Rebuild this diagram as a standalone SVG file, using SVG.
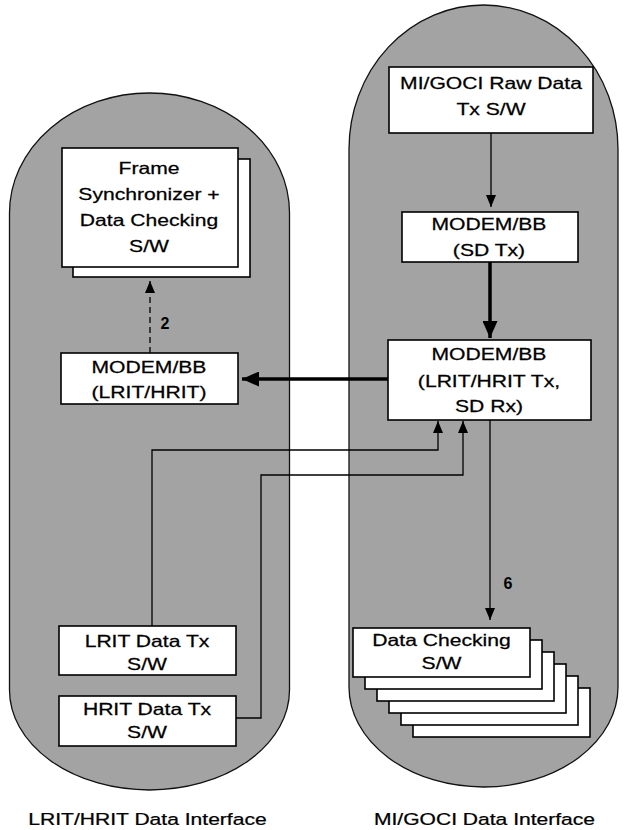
<svg xmlns="http://www.w3.org/2000/svg" width="625" height="830" viewBox="0 0 625 830">
<style>
.cap{fill:#a3a3a3;stroke:#111;stroke-width:1.3}
.box{fill:#fff;stroke:#000;stroke-width:1.6}
.t{font-family:"Liberation Sans",Arial,sans-serif;font-size:16.5px;fill:#000;stroke:#000;stroke-width:0.25;text-anchor:middle}
.lbl{font-family:"Liberation Sans",Arial,sans-serif;font-size:17px;fill:#000;stroke:#000;stroke-width:0.25;text-anchor:middle}
.num{font-family:"Liberation Sans",Arial,sans-serif;font-size:16px;font-weight:bold;fill:#000;text-anchor:middle}
.thin{fill:none;stroke:#000;stroke-width:1.3}
.thick{fill:none;stroke:#000;stroke-width:3.5}
.dash{fill:none;stroke:#000;stroke-width:1.3;stroke-dasharray:6 4}
</style>
<defs>
<marker id="ah" markerUnits="userSpaceOnUse" markerWidth="12" markerHeight="10" refX="12" refY="5" orient="auto">
<path d="M0,0 L12,5 L0,10 z" fill="#000"/>
</marker>
<marker id="ahb" markerUnits="userSpaceOnUse" markerWidth="18" markerHeight="15" refX="17" refY="7.5" orient="auto">
<path d="M0,0 L17,7.5 L0,15 z" fill="#000"/>
</marker>
</defs>

<g id="left-interface">
<path class="cap" d="M9.5,213 A140,120 0 0 1 289.5,213 L289.5,690 A140,100 0 0 1 9.5,690 Z"/>
</g>
<g id="right-interface">
<path class="cap" d="M349,149 A134.5,144 0 0 1 618,149 L618,687 A134.5,100 0 0 1 349,687 Z"/>
</g>

<g id="connectors">
<line class="dash" x1="150" y1="353" x2="150" y2="281" marker-end="url(#ah)"/>
<line class="thin" x1="491" y1="133" x2="491" y2="207" marker-end="url(#ah)"/>
<line class="thick" x1="490" y1="262" x2="490" y2="338" marker-end="url(#ahb)"/>
<line class="thick" x1="388" y1="379" x2="242" y2="379" marker-end="url(#ahb)"/>
<polyline class="thin" points="152,626 152,450 438,450 438,421" marker-end="url(#ah)"/>
<polyline class="thin" points="236,718 261,718 261,475 463,475 463,421" marker-end="url(#ah)"/>
<line class="thin" x1="490" y1="420" x2="490" y2="620" marker-end="url(#ah)"/>
<text class="num" x="165" y="329">2</text>
<text class="num" x="508" y="589">6</text>
</g>

<g id="frame-sync">
<rect class="box" x="73" y="159" width="177" height="118"/>
<rect class="box" x="62" y="148" width="176" height="119"/>
<g transform="translate(149,0) scale(1.28,1)">
<text class="t" x="0" y="174">Frame</text>
<text class="t" x="0" y="200">Synchronizer +</text>
<text class="t" x="0" y="226">Data Checking</text>
<text class="t" x="0" y="252">S/W</text>
</g>
</g>

<g id="modem-left">
<rect class="box" x="61" y="353" width="177" height="51"/>
<g transform="translate(149,0) scale(1.28,1)">
<text class="t" x="0" y="373">MODEM/BB</text>
<text class="t" x="0" y="398">(LRIT/HRIT)</text>
</g>
</g>

<g id="lrit-tx">
<rect class="box" x="59" y="626" width="177" height="49"/>
<g transform="translate(147,0) scale(1.28,1)">
<text class="t" x="0" y="647">LRIT Data Tx</text>
<text class="t" x="0" y="670">S/W</text>
</g>
</g>

<g id="hrit-tx">
<rect class="box" x="59" y="696" width="177" height="50"/>
<g transform="translate(147,0) scale(1.28,1)">
<text class="t" x="0" y="715">HRIT Data Tx</text>
<text class="t" x="0" y="738">S/W</text>
</g>
</g>

<g id="raw-tx">
<rect class="box" x="389" y="67" width="204" height="66"/>
<g transform="translate(491,0) scale(1.28,1)">
<text class="t" x="0" y="89">MI/GOCI Raw Data</text>
<text class="t" x="0" y="115">Tx S/W</text>
</g>
</g>

<g id="modem-sd">
<rect class="box" x="402" y="212" width="176" height="50"/>
<g transform="translate(489,0) scale(1.28,1)">
<text class="t" x="0" y="230">MODEM/BB</text>
<text class="t" x="0" y="256">(SD Tx)</text>
</g>
</g>

<g id="modem-right">
<rect class="box" x="388" y="340" width="203" height="80"/>
<g transform="translate(489,0) scale(1.28,1)">
<text class="t" x="0" y="360">MODEM/BB</text>
<text class="t" x="0" y="387">(LRIT/HRIT Tx,</text>
<text class="t" x="0" y="412">SD Rx)</text>
</g>
</g>

<g id="data-checking">
<rect class="box" x="413" y="688" width="177" height="49"/>
<rect class="box" x="401" y="676" width="177" height="49"/>
<rect class="box" x="389" y="664" width="177" height="49"/>
<rect class="box" x="377" y="652" width="177" height="49"/>
<rect class="box" x="365" y="640" width="177" height="49"/>
<rect class="box" x="353" y="628" width="177" height="49"/>
<g transform="translate(441.5,0) scale(1.28,1)">
<text class="t" x="0" y="646">Data Checking</text>
<text class="t" x="0" y="669">S/W</text>
</g>
</g>

<g id="labels">
<g transform="translate(147.5,0) scale(1.24,1)"><text class="lbl" x="0" y="825">LRIT/HRIT Data Interface</text></g>
<g transform="translate(484.5,0) scale(1.24,1)"><text class="lbl" x="0" y="825">MI/GOCI Data Interface</text></g>
</g>
</svg>
